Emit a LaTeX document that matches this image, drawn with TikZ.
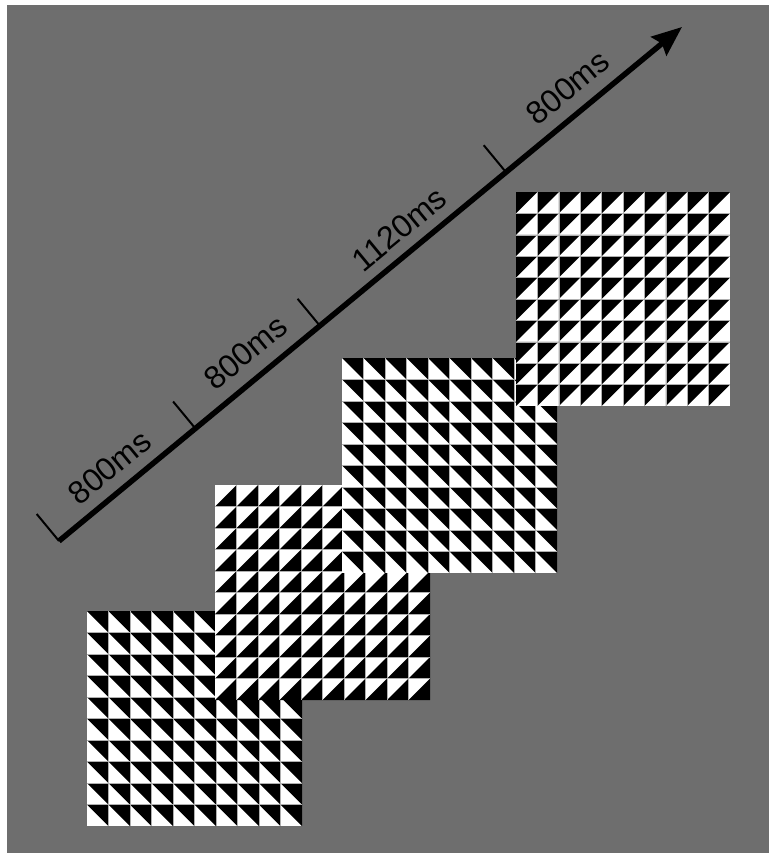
\documentclass[tikz,border=0pt]{standalone}
\usepackage{fontspec}
\setmainfont{Liberation Sans}
\usetikzlibrary{arrows.meta}
\definecolor{bggray}{RGB}{110,110,110}
\definecolor{seam}{RGB}{175,175,175}
\tikzset{
  timeline/.style={line width=5.5pt,-{Stealth[length=30pt,width=24pt,inset=4pt]}},
  tickmark/.style={line width=2pt},
  lab/.style={rotate=39.5,inner sep=0pt,font=\fontsize{32}{32}\selectfont},
  seamline/.style={draw=seam,line width=0.5pt},
}
\newcommand{\gridcells}[1]{%
  \fill[white] (0,0) rectangle (10,10);
  \foreach \i in {0,...,9}{\foreach \j in {0,...,9}{#1}}
  \foreach \k in {1,...,9}{\draw[seamline] (\k,0) -- (\k,10); \draw[seamline] (0,\k) -- (10,\k);}
}
\begin{document}
\begin{tikzpicture}[x=1pt,y=-1pt]
\useasboundingbox (0,0) rectangle (769,853);
\fill[white] (0,0) rectangle (769,853);
\fill[bggray] (7,5) rectangle (769,853);

% grid 1
\begin{scope}[shift={(87,611)},x=21.5pt,y=-21.5pt]
  \gridcells{\fill[black] (\i,\j) -- ++(1,0) -- ++(0,1) -- cycle;}
\end{scope}
% grid 2
\begin{scope}[shift={(215,485)},x=21.5pt,y=-21.5pt]
  \gridcells{\fill[black] (\i+1,\j) -- ++(0,1) -- ++(-1,0) -- cycle;}
\end{scope}
% grid 3
\begin{scope}[shift={(342,358)},x=21.5pt,y=-21.5pt]
  \gridcells{\fill[black] (\i,\j) -- ++(1,0) -- ++(0,1) -- cycle;}
\end{scope}
% grid 4
\begin{scope}[shift={(516,192)},x=21.4pt,y=-21.4pt]
  \gridcells{\fill[black] (\i,\j) -- ++(1,0) -- ++(-1,1) -- cycle;}
\end{scope}

% time axis
\coordinate (S) at (59,541);
\coordinate (E) at (682,27);
\coordinate (T1) at (195.4,428.5);
\coordinate (T2) at (319.9,325.8);
\coordinate (T3) at (506.0,172.2);
\coordinate (S0e) at (36.7,514);
\coordinate (T1e) at (173.1,401.5);
\coordinate (T2e) at (297.6,298.8);
\coordinate (T3e) at (483.7,145.2);
\draw[timeline] (S) -- (E);
\draw[tickmark] (S) -- (S0e);
\draw[tickmark] (T1) -- (T1e);
\draw[tickmark] (T2) -- (T2e);
\draw[tickmark] (T3) -- (T3e);

\node[lab] (l1) at (109.5,467) {800ms};
\node[lab] (l2) at (245.5,352.5) {800ms};
\node[lab] (l3) at (399.3,229.1) {1120ms};
\node[lab] (l4) at (567.8,87.5) {800ms};
\end{tikzpicture}
\end{document}
